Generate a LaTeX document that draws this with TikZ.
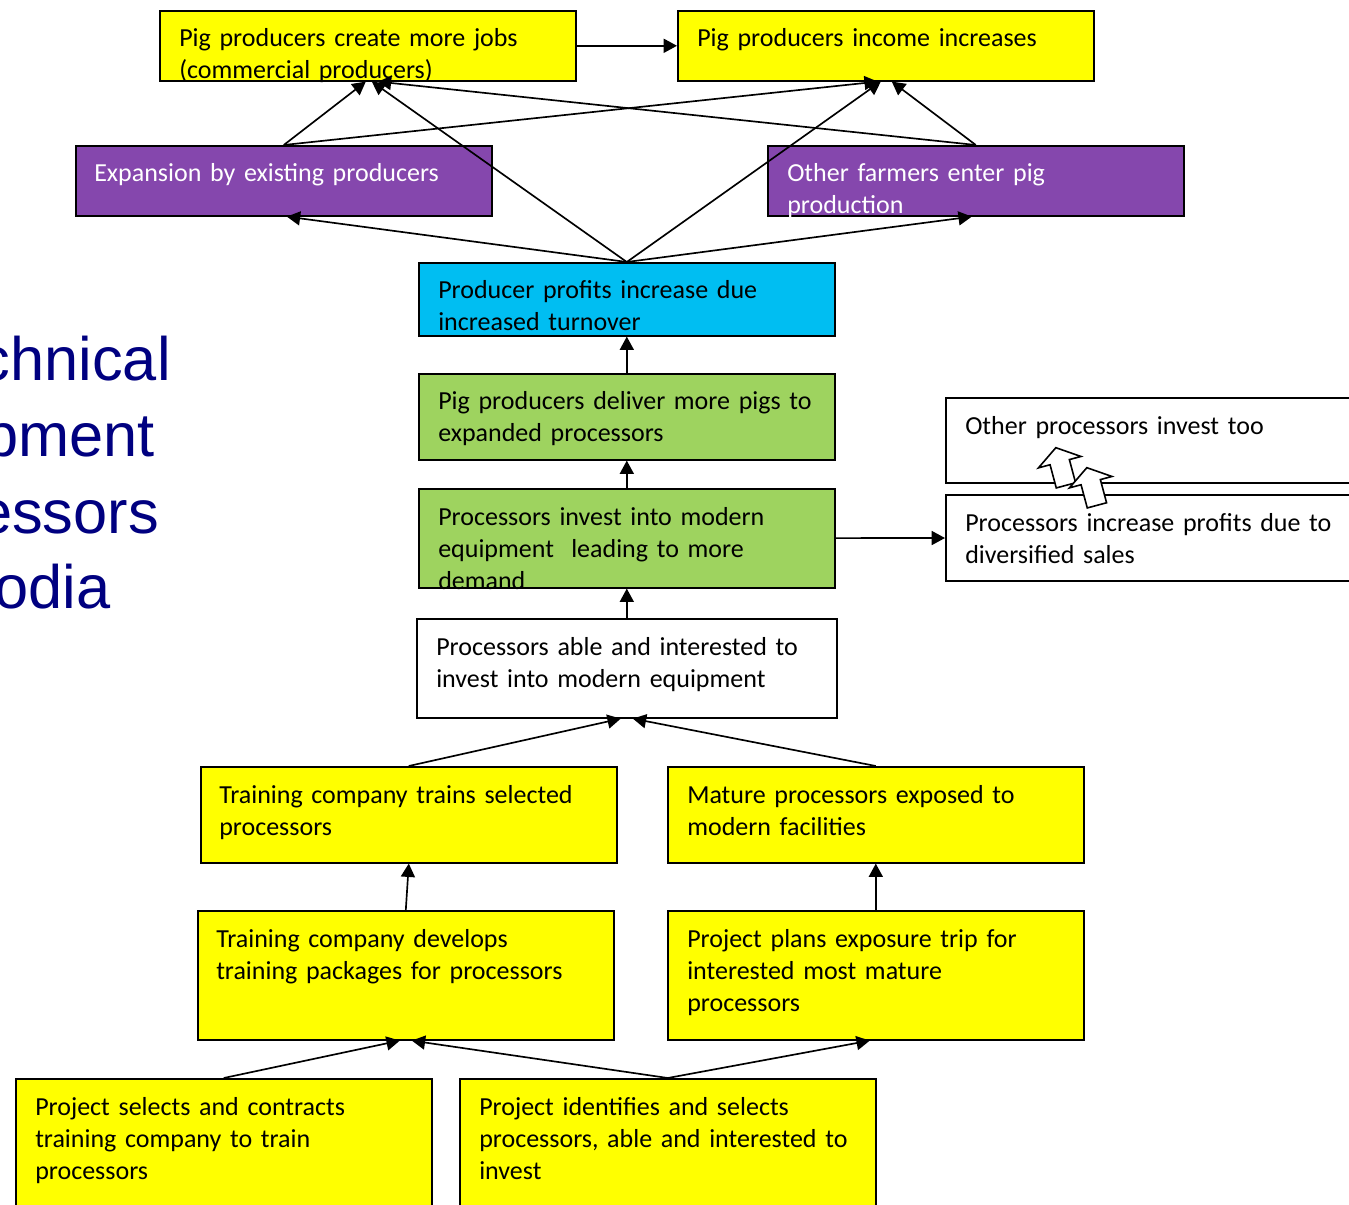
\documentclass[tikz,border=0pt]{standalone}
\usepackage{fontspec}
\setmainfont{Carlito}
\newfontfamily\headfont{Liberation Sans}
\usepackage{xcolor}
\usepackage{tikz}
\usetikzlibrary{arrows.meta, calc}
\definecolor{boxyellow}{RGB}{255,255,0}
\definecolor{boxpurple}{RGB}{133,71,173}
\definecolor{boxcyan}{RGB}{0,190,242}
\definecolor{boxgreen}{RGB}{158,211,95}
\definecolor{headblue}{RGB}{0,0,128}

\begin{document}
\begin{tikzpicture}[
  x=0.75pt, y=-0.75pt,
  box/.style={rectangle, draw, line width=1.2pt, anchor=north west,
    inner sep=0pt, minimum width=312pt},
  yellowbox/.style={box, fill=boxyellow},
  purplebox/.style={box, fill=boxpurple},
  cyanbox/.style={box, fill=boxcyan},
  greenbox/.style={box, fill=boxgreen},
  whitebox/.style={box, fill=white},
  txt/.style={anchor=base west, inner sep=0pt, text width=300pt, align=left,
    font=\fontsize{19.5}{24}\selectfont},
  headtxt/.style={anchor=base east, inner sep=0pt, text=headblue,
    font=\headfont\fontsize{46}{56}\selectfont},
  arrow/.style={-{Triangle[length=10pt, width=10.5pt]}, line width=1.25pt},
  blockarrow/.style={draw, line width=1.2pt, fill=white, line join=miter}
]
  \useasboundingbox (0,0) rectangle (1349,1205);
  \clip (0,0) rectangle (1349,1205);

  % heading cut off at the left edge
  \node[headtxt] (head1) at (171,381) {chnical};
  \node[headtxt] (head2) at (155,456) {pment};
  \node[headtxt] (head3) at (159,533) {essors};
  \node[headtxt] (head4) at (111,608) {odia};

  % boxes
  \node[yellowbox, minimum height=52.5pt] (jobs) at (159,10) {};
  \node[yellowbox, minimum height=52.5pt] (income) at (677,10) {};
  \node[purplebox, minimum height=52.5pt] (expand) at (75,145) {};
  \node[purplebox, minimum height=52.5pt] (enter) at (767,145) {};
  \node[cyanbox, minimum height=54.75pt] (profit) at (418,262) {};
  \node[greenbox, minimum height=64.5pt] (deliver) at (418,373) {};
  \node[greenbox, minimum height=74.25pt] (invest) at (418,488) {};
  \node[whitebox, minimum height=74.25pt, minimum width=315pt] (able) at (416,618) {};
  \node[whitebox, minimum height=63.75pt, minimum width=330pt] (others) at (945,397) {};
  \node[whitebox, minimum height=64.5pt, minimum width=330pt] (sales) at (945,494) {};
  \node[yellowbox, minimum height=72pt] (trains) at (200,766) {};
  \node[yellowbox, minimum height=72pt] (mature) at (667,766) {};
  \node[yellowbox, minimum height=96.75pt] (develops) at (197,910) {};
  \node[yellowbox, minimum height=96.75pt] (trip) at (667,910) {};
  \node[yellowbox, minimum height=112.5pt] (contract) at (15,1078) {};
  \node[yellowbox, minimum height=112.5pt] (identify) at (459,1078) {};

  % texts
  \node[txt] (jobs-t) at ($(jobs.north west)+(20,37)$) {Pig producers create more jobs\\(commercial producers)};
  \node[txt] (income-t) at ($(income.north west)+(20,37)$) {Pig producers income increases};
  \node[txt, text=white] (expand-t) at ($(expand.north west)+(19,37)$) {Expansion by existing producers};
  \node[txt, text=white] (enter-t) at ($(enter.north west)+(20,37)$) {Other farmers enter pig\\production};
  \node[txt] (profit-t) at ($(profit.north west)+(20,37)$) {Producer profits increase due\\increased turnover};
  \node[txt] (deliver-t) at ($(deliver.north west)+(20,37)$) {Pig producers deliver more pigs to\\expanded processors};
  \node[txt] (invest-t) at ($(invest.north west)+(20,37)$) {Processors invest into modern\\equipment~ leading to more\\demand};
  \node[txt] (able-t) at ($(able.north west)+(20,37)$) {Processors able and interested to\\invest into modern equipment};
  \node[txt] (others-t) at ($(others.north west)+(20,37)$) {Other processors invest too};
  \node[txt] (sales-t) at ($(sales.north west)+(20,37)$) {Processors increase profits due to\\diversified sales};
  \node[txt] (trains-t) at ($(trains.north west)+(19,37)$) {Training company trains selected\\processors};
  \node[txt] (mature-t) at ($(mature.north west)+(20,37)$) {Mature processors exposed to\\modern facilities};
  \node[txt] (develops-t) at ($(develops.north west)+(19,37)$) {Training company develops\\training packages for processors};
  \node[txt] (trip-t) at ($(trip.north west)+(20,37)$) {Project plans exposure trip for\\interested most mature\\processors};
  \node[txt] (contract-t) at ($(contract.north west)+(20,37)$) {Project selects and contracts\\training company to train\\processors};
  \node[txt] (identify-t) at ($(identify.north west)+(20,37)$) {Project identifies and selects\\processors, able and interested to\\invest};

  % connectors
  \draw[arrow] (jobs) -- (income);
  \draw[arrow] (expand.north) -- ($(jobs.south)+(-2,0)$);
  \draw[arrow] (expand.north) -- ($(income.south)+(-8,0)$);
  \draw[arrow] (enter.north) -- ($(jobs.south)+(10,0)$);
  \draw[arrow] (enter.north) -- ($(income.south)+(6,0)$);
  \draw[arrow] (profit.north) -- ($(jobs.south)+(4,0)$);
  \draw[arrow] (profit.north) -- ($(income.south)+(-5,0)$);
  \draw[arrow] (profit.north) -- ($(expand.south)+(3,0)$);
  \draw[arrow] (profit.north) -- ($(enter.south)+(-4,0)$);
  \draw[arrow] (deliver) -- (profit);
  \draw[arrow] (invest) -- (deliver);
  \draw[arrow] (able) -- (invest);
  \draw[arrow] (invest) -- (sales);
  \draw[arrow] (trains.north) -- ($(able.south)+(-6,0)$);
  \draw[arrow] (mature.north) -- ($(able.south)+(6,0)$);
  \draw[arrow] (develops.north) -- (trains.south);
  \draw[arrow] (trip) -- (mature);
  \draw[arrow] (contract.north) -- ($(develops.south)+(-6,0)$);
  \draw[arrow] (identify.north) -- ($(develops.south)+(6,0)$);
  \draw[arrow] (identify.north) -- ($(trip.south)+(-6,0)$);

  % hollow arrows from sales to others
  \draw[blockarrow, shift={($(sales.north west)+(116,-27)$)}, rotate=105]
    (-19,-10) -- (5,-10) -- (5,-22) -- (20,0) -- (5,22) -- (5,10) -- (-19,10) -- cycle;
  \draw[blockarrow, shift={($(sales.north west)+(147,-7)$)}, rotate=105]
    (-19,-10) -- (5,-10) -- (5,-22) -- (20,0) -- (5,22) -- (5,10) -- (-19,10) -- cycle;
\end{tikzpicture}
\end{document}
